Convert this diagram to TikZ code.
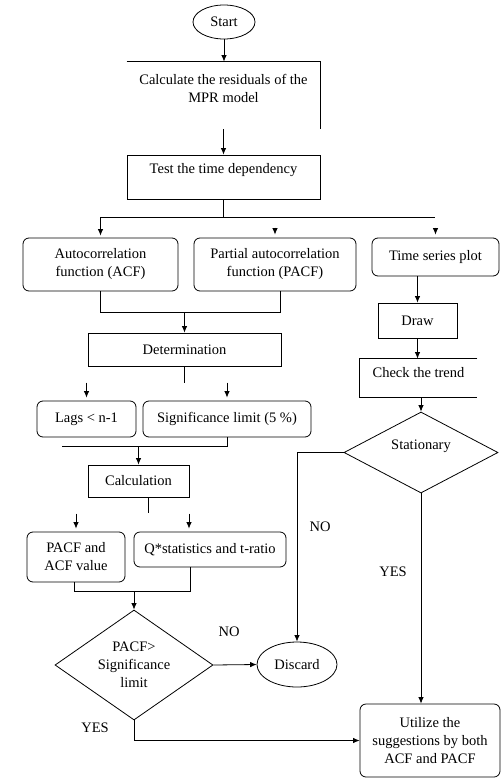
\documentclass[tikz,border=0pt]{standalone}
\usepackage{fontspec}
\setmainfont{Liberation Serif}
\usepackage{tikz}
\usetikzlibrary{arrows.meta}
\usetikzlibrary{shapes.geometric}
\usetikzlibrary{calc}
\tikzstyle{terminal}=[draw,ellipse,inner sep=1pt]
\tikzstyle{process}=[draw,rectangle,inner sep=2pt,align=center]
\tikzstyle{roundbox}=[draw,rectangle,rounded corners=6pt,inner sep=2pt,align=center]
\tikzstyle{decision}=[draw,diamond,shape aspect=1.4,inner sep=0pt,align=center]
\tikzstyle{frame}=[rectangle,inner sep=0pt]
\tikzstyle{arr}=[-{Latex[length=6.5pt,width=5.5pt]}]

\begin{document}
\begin{tikzpicture}[x=1pt,y=-1pt,line width=0.8pt,font=\fontsize{14.5}{18}\selectfont]
\useasboundingbox (0,0) rectangle (501,778);
% top
\node [terminal,minimum width=62pt,minimum height=34pt] (start) at (224,22) {Start};
\node [frame,minimum width=193pt,minimum height=67pt] (resid) at (223.5,95.5) {};
\node [align=center] (residtxt) at ([yshift=7pt]resid.center) {Calculate the residuals of the\\MPR model};
\draw (resid.north west) -- (resid.north east) -- (resid.south east);
\node [process,minimum width=193pt,minimum height=44pt] (test) at (223.5,177) {};
\node (testtxt) at ([yshift=7pt]test.center) {Test the time dependency};
% three branches
\node [roundbox,minimum width=155pt,minimum height=53pt] (acf) at (100.5,264.5) {Autocorrelation\\function (ACF)};
\node [roundbox,minimum width=162pt,minimum height=53pt] (pacf) at (275,264.5) {Partial autocorrelation\\function (PACF)};
\node [roundbox,minimum width=127pt,minimum height=38pt] (tsplot) at (435.5,257) {Time series plot};
\node [process,minimum width=79pt,minimum height=35pt] (drawbox) at (417.5,320.5) {Draw};
\node [frame,minimum width=117pt,minimum height=38pt] (trend) at (418.5,378) {};
\node (trendtxt) at ([yshift=5pt]trend.center) {Check the trend};
\draw (trend.north east) -- (trend.north west) -- (trend.south west) -- (trend.south east);
\node [decision,minimum width=154pt,minimum height=81pt] (stat) at (421,452.5) {};
\node (stattxt) at ([yshift=6pt]stat.center) {Stationary};
% left column
\node [process,minimum width=193pt,minimum height=33pt] (determ) at (184.5,349.5) {Determination};
\node [roundbox,minimum width=99pt,minimum height=36pt] (lags) at (86.5,419) {Lags < n-1};
\node [roundbox,minimum width=168pt,minimum height=36pt] (sig) at (227,419) {Significance limit (5 \%)};
\node [process,minimum width=101pt,minimum height=32pt] (calc) at (138.5,481) {Calculation};
\node [roundbox,minimum width=98pt,minimum height=50pt] (pacfval) at (76,557) {PACF and\\ACF value};
\node [roundbox,minimum width=152pt,minimum height=35pt] (qstat) at (210,549.5) {Q*statistics and t-ratio};
\node [decision,minimum width=158pt,minimum height=110pt] (dpacf) at (134,665) {PACF>\\Significance\\limit};
\node [terminal,minimum width=80pt,minimum height=45pt] (discard) at (297,664.5) {Discard};
\node [roundbox,minimum width=140pt,minimum height=73pt] (util) at (430,740.5) {Utilize the\\suggestions by both\\ACF and PACF};
\node (no1) at (229,632) {NO};
\node (yes1) at (95,728) {YES};
\node (no2) at (320,527) {NO};
\node (yes2) at (393,572) {YES};
% connectors
\coordinate (split) at (223.5,217);
\coordinate (splitend) at (435,217);
\coordinate (merge1) at (184.5,312);
\coordinate (lagfoot) at (62,446);
\coordinate (merge2) at (134,591);
\draw[arr] (start) -- (start |- resid.north);
\draw[arr] (resid.south) -- (test.north);
\draw (test.south) -- (split);
\draw[arr,shorten >=2pt] (split) -| (acf.north);
\draw (split) -- (splitend);
\draw[arr] ([yshift=10pt]pacf.north) -- ([yshift=3pt]pacf.north);
\draw[arr] ([yshift=10pt]tsplot.north) -- ([yshift=3pt]tsplot.north);
\draw (acf.south) -- ++(0,21) -| ([xshift=5pt]pacf.south);
\draw[arr] (merge1) -- (determ.north);
\draw[arr] (tsplot.south -| drawbox.north) -- (drawbox.north);
\draw[arr] (drawbox.south) -- (drawbox.south |- trend.north);
\draw[arr] (stat.north |- trend.south) -- (stat.north);
\draw[arr] (stat.west) -| (discard.north);
\draw[arr] (stat.south) -- (stat.south |- util.north);
\draw (determ.south) -- ++(0,17);
\draw[arr] ([yshift=18pt]lags.north) -- ([yshift=3pt]lags.north);
\draw[arr] ([yshift=18pt]sig.north) -- ([yshift=3pt]sig.north);
\draw (sig.south) |- (lagfoot);
\draw[arr] (calc.north |- lagfoot) -- (calc.north);
\draw ([xshift=10pt]calc.south) -- ++(0,16);
\draw[arr] ([yshift=18pt]pacfval.north) -- ([yshift=3pt]pacfval.north);
\draw[arr] ([xshift=-21pt,yshift=18pt]qstat.north) -- ([xshift=-21pt,yshift=3pt]qstat.north);
\draw ([xshift=-2pt]pacfval.south) -- ++(0,9) -| ([xshift=-20pt]qstat.south);
\draw[arr] (merge2) -- (dpacf.north);
\draw[arr] (dpacf.east) -- (discard.west);
\draw[arr] (dpacf.south) |- (util.west);
\end{tikzpicture}
\end{document}
